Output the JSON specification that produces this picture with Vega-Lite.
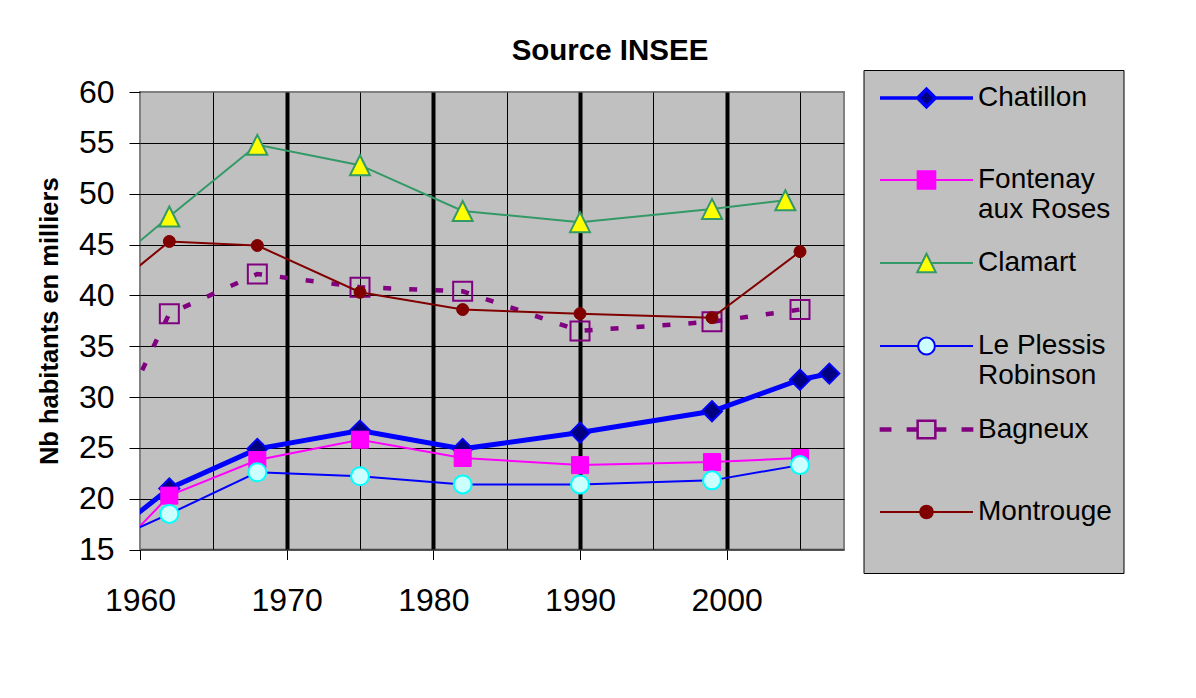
{
  "$schema": "https://vega.github.io/schema/vega-lite/v6.json",
  "width": 704,
  "height": 457.5,
  "autosize": "none",
  "padding": {"left": 140, "top": 92, "right": 352, "bottom": 148.5},
  "background": "#FFFFFF",
  "datasets": {
    "pop": [
      {"city": "Chatillon", "year": 1954, "pop": 11.9},
      {"city": "Chatillon", "year": 1962, "pop": 21.0},
      {"city": "Chatillon", "year": 1968, "pop": 24.9},
      {"city": "Chatillon", "year": 1975, "pop": 26.7},
      {"city": "Chatillon", "year": 1982, "pop": 24.9},
      {"city": "Chatillon", "year": 1990, "pop": 26.5},
      {"city": "Chatillon", "year": 1999, "pop": 28.6},
      {"city": "Chatillon", "year": 2005, "pop": 31.7},
      {"city": "Chatillon", "year": 2007, "pop": 32.3},
      {"city": "Fontenay aux Roses", "year": 1954, "pop": 8.3},
      {"city": "Fontenay aux Roses", "year": 1962, "pop": 20.3},
      {"city": "Fontenay aux Roses", "year": 1968, "pop": 23.8},
      {"city": "Fontenay aux Roses", "year": 1975, "pop": 25.8},
      {"city": "Fontenay aux Roses", "year": 1982, "pop": 24.0},
      {"city": "Fontenay aux Roses", "year": 1990, "pop": 23.3},
      {"city": "Fontenay aux Roses", "year": 1999, "pop": 23.6},
      {"city": "Fontenay aux Roses", "year": 2005, "pop": 24.0},
      {"city": "Clamart", "year": 1954, "pop": 38.1},
      {"city": "Clamart", "year": 1962, "pop": 47.75},
      {"city": "Clamart", "year": 1968, "pop": 54.8},
      {"city": "Clamart", "year": 1975, "pop": 52.8},
      {"city": "Clamart", "year": 1982, "pop": 48.3},
      {"city": "Clamart", "year": 1990, "pop": 47.2},
      {"city": "Clamart", "year": 1999, "pop": 48.5},
      {"city": "Clamart", "year": 2004, "pop": 49.35},
      {"city": "Le Plessis Robinson", "year": 1954, "pop": 13.3},
      {"city": "Le Plessis Robinson", "year": 1962, "pop": 18.5},
      {"city": "Le Plessis Robinson", "year": 1968, "pop": 22.6},
      {"city": "Le Plessis Robinson", "year": 1975, "pop": 22.2},
      {"city": "Le Plessis Robinson", "year": 1982, "pop": 21.4},
      {"city": "Le Plessis Robinson", "year": 1990, "pop": 21.4},
      {"city": "Le Plessis Robinson", "year": 1999, "pop": 21.8},
      {"city": "Le Plessis Robinson", "year": 2005, "pop": 23.3},
      {"city": "Bagneux", "year": 1954, "pop": 14.2},
      {"city": "Bagneux", "year": 1962, "pop": 38.2},
      {"city": "Bagneux", "year": 1968, "pop": 42.1},
      {"city": "Bagneux", "year": 1975, "pop": 40.8},
      {"city": "Bagneux", "year": 1982, "pop": 40.4},
      {"city": "Bagneux", "year": 1990, "pop": 36.5},
      {"city": "Bagneux", "year": 1999, "pop": 37.4},
      {"city": "Bagneux", "year": 2005, "pop": 38.6},
      {"city": "Montrouge", "year": 1954, "pop": 35.9},
      {"city": "Montrouge", "year": 1962, "pop": 45.3},
      {"city": "Montrouge", "year": 1968, "pop": 44.9},
      {"city": "Montrouge", "year": 1975, "pop": 40.3},
      {"city": "Montrouge", "year": 1982, "pop": 38.6},
      {"city": "Montrouge", "year": 1990, "pop": 38.2},
      {"city": "Montrouge", "year": 1999, "pop": 37.8},
      {"city": "Montrouge", "year": 2005, "pop": 44.3}
    ]
  },
  "data": {"name": "pop"},
  "title": {
    "text": "Source INSEE",
    "font": "Liberation Sans",
    "fontSize": 29.5,
    "fontWeight": "bold",
    "color": "#000000",
    "anchor": "middle",
    "dx": 118,
    "offset": 3
  },
  "encoding": {
    "x": {
      "field": "year",
      "type": "quantitative",
      "scale": {"domain": [1960, 2008], "nice": false, "zero": false},
      "axis": {
        "title": null,
        "values": [1960, 1965, 1970, 1975, 1980, 1985, 1990, 1995, 2000, 2005],
        "format": "d",
        "labelExpr": "datum.value % 10 === 0 ? datum.label : ''",
        "labelFont": "Liberation Sans",
        "labelFontSize": 32,
        "labelColor": "#000000",
        "labelPadding": 26,
        "labelFlush": false,
        "labelOverlap": false,
        "tickSize": 10,
        "tickColor": "#000000",
        "tickWidth": 1,
        "tickOpacity": {"condition": {"test": "datum.value % 10 === 0", "value": 1}, "value": 0},
        "grid": true,
        "gridColor": "#000000",
        "gridWidth": {"condition": {"test": "datum.value % 10 === 0 && datum.value > 1960", "value": 4}, "value": 1},
        "gridOpacity": {"condition": {"test": "datum.value === 1960", "value": 0}, "value": 1},
        "domainColor": "#333333",
        "domainWidth": 1.5
      }
    },
    "y": {
      "field": "pop",
      "type": "quantitative",
      "scale": {"domain": [15, 60], "nice": false, "zero": false},
      "axis": {
        "title": "Nb habitants en milliers",
        "titleFont": "Liberation Sans",
        "titleFontSize": 25.5,
        "titleFontWeight": "bold",
        "titleColor": "#000000",
        "titlePadding": 16,
        "values": [15, 20, 25, 30, 35, 40, 45, 50, 55, 60],
        "labelFont": "Liberation Sans",
        "labelFontSize": 32,
        "labelColor": "#000000",
        "labelPadding": 15,
        "labelFlush": false,
        "labelOverlap": false,
        "tickSize": 11,
        "tickColor": "#000000",
        "tickWidth": 1,
        "grid": true,
        "gridColor": "#000000",
        "gridWidth": 1,
        "gridOpacity": {"condition": {"test": "datum.value === 15 || datum.value === 60", "value": 0}, "value": 1},
        "domain": false
      }
    }
  },
  "layer": [
    {
      "transform": [{"filter": "datum.city === 'Chatillon'"}],
      "layer": [
        {"mark": {"type": "line", "clip": true, "stroke": "#0000FF", "strokeWidth": 5}, "encoding": {}},
        {"transform": [{"filter": "datum.year >= 1960"}], "mark": {"type": "point", "clip": true, "shape": "diamond", "filled": true, "fill": "#000080", "stroke": "#0000FF", "strokeWidth": 2, "size": 400, "opacity": 1}, "encoding": {}}
      ]
    },
    {
      "transform": [{"filter": "datum.city === 'Fontenay aux Roses'"}],
      "layer": [
        {"mark": {"type": "line", "clip": true, "stroke": "#FF00FF", "strokeWidth": 2}, "encoding": {}},
        {"transform": [{"filter": "datum.year >= 1960"}], "mark": {"type": "point", "clip": true, "shape": "square", "filled": true, "fill": "#FF00FF", "stroke": "#FF00FF", "strokeWidth": 1, "size": 290, "opacity": 1}, "encoding": {}}
      ]
    },
    {
      "transform": [{"filter": "datum.city === 'Clamart'"}],
      "layer": [
        {"mark": {"type": "line", "clip": true, "stroke": "#339966", "strokeWidth": 2}, "encoding": {}},
        {"transform": [{"filter": "datum.year >= 1960"}], "mark": {"type": "point", "clip": true, "shape": "M0,-1L1,1L-1,1Z", "filled": true, "fill": "#FFFF00", "stroke": "#339966", "strokeWidth": 2, "size": 400, "opacity": 1}, "encoding": {}}
      ]
    },
    {
      "transform": [{"filter": "datum.city === 'Le Plessis Robinson'"}],
      "layer": [
        {"mark": {"type": "line", "clip": true, "stroke": "#0000FF", "strokeWidth": 2}, "encoding": {}},
        {"transform": [{"filter": "datum.year >= 1960"}], "mark": {"type": "point", "clip": true, "shape": "circle", "filled": true, "fill": "#CCFFFF", "stroke": "#00FFFF", "strokeWidth": 2, "size": 324, "opacity": 1}, "encoding": {}}
      ]
    },
    {
      "transform": [{"filter": "datum.city === 'Bagneux'"}],
      "layer": [
        {"mark": {"type": "line", "clip": true, "stroke": "#800080", "strokeWidth": 4.5, "strokeDash": [8, 18]}, "encoding": {}},
        {"transform": [{"filter": "datum.year >= 1960"}], "mark": {"type": "point", "clip": true, "shape": "square", "filled": false, "stroke": "#800080", "strokeWidth": 2, "size": 361, "opacity": 1}, "encoding": {}}
      ]
    },
    {
      "transform": [{"filter": "datum.city === 'Montrouge'"}],
      "layer": [
        {"mark": {"type": "line", "clip": true, "stroke": "#800000", "strokeWidth": 2}, "encoding": {}},
        {"transform": [{"filter": "datum.year >= 1960"}], "mark": {"type": "point", "clip": true, "shape": "circle", "filled": true, "fill": "#800000", "stroke": "#800000", "strokeWidth": 1, "size": 144, "opacity": 1}, "encoding": {}}
      ]
    },
    {
      "transform": [{"filter": "datum.year > 3000"}],
      "mark": {"type": "point", "filled": true, "size": 900, "opacity": 1},
      "encoding": {
        "shape": {
          "field": "city", "type": "nominal",
          "scale": {
            "domain": ["Chatillon", "Fontenay aux Roses", "Clamart", "Le Plessis Robinson", "Bagneux", "Montrouge"],
            "range": [
              "M-3.1,0H-0.59M0.59,0H3.1M0,-0.59L0.59,0L0,0.59L-0.59,0Z",
              "M-3.1,0H-0.59M0.59,0H3.1M-0.59,-0.59H0.59V0.59H-0.59Z",
              "M-3.1,0H-0.31M0.31,0H3.1M0,-0.62L0.62,0.62H-0.62Z",
              "M-3.1,0H-0.56M0.56,0H3.1M-0.56,0A0.56,0.56,0,1,0,0.56,0A0.56,0.56,0,1,0,-0.56,0Z",
              "M-3.04,-0.062H-2.42V0.062H-3.04ZM-1.24,-0.062H-0.59V0.062H-1.24ZM0.59,-0.062H1.24V0.062H0.59ZM2.42,-0.062H3.04V0.062H2.42ZM-0.59,-0.59H0.59V0.59H-0.59Z",
              "M-3.1,0H-0.42M0.42,0H3.1M-0.42,0A0.42,0.42,0,1,0,0.42,0A0.42,0.42,0,1,0,-0.42,0Z"
            ]
          },
          "legend": {"title": " ", "labelExpr": "datum.label === 'Fontenay aux Roses' ? ['Fontenay', 'aux Roses'] : datum.label === 'Le Plessis Robinson' ? ['Le Plessis', 'Robinson'] : datum.label"}
        },
        "fill": {
          "field": "city", "type": "nominal",
          "scale": {
            "domain": ["Chatillon", "Fontenay aux Roses", "Clamart", "Le Plessis Robinson", "Bagneux", "Montrouge"],
            "range": ["#000080", "#FF00FF", "#FFFF00", "#CCFFFF", "transparent", "#800000"]
          },
          "legend": {"title": " ", "labelExpr": "datum.label === 'Fontenay aux Roses' ? ['Fontenay', 'aux Roses'] : datum.label === 'Le Plessis Robinson' ? ['Le Plessis', 'Robinson'] : datum.label"}
        },
        "stroke": {
          "field": "city", "type": "nominal",
          "scale": {
            "domain": ["Chatillon", "Fontenay aux Roses", "Clamart", "Le Plessis Robinson", "Bagneux", "Montrouge"],
            "range": ["#0000FF", "#FF00FF", "#339966", "#0000FF", "#800080", "#800000"]
          },
          "legend": {"title": " ", "labelExpr": "datum.label === 'Fontenay aux Roses' ? ['Fontenay', 'aux Roses'] : datum.label === 'Le Plessis Robinson' ? ['Le Plessis', 'Robinson'] : datum.label"}
        },
        "strokeWidth": {
          "field": "city", "type": "ordinal",
          "scale": {
            "type": "ordinal",
            "domain": ["Chatillon", "Fontenay aux Roses", "Clamart", "Le Plessis Robinson", "Bagneux", "Montrouge"],
            "range": [3.5, 2, 2, 2, 2.5, 2]
          },
          "legend": {"title": " ", "labelExpr": "datum.label === 'Fontenay aux Roses' ? ['Fontenay', 'aux Roses'] : datum.label === 'Le Plessis Robinson' ? ['Le Plessis', 'Robinson'] : datum.label"}
        }
      }
    }
  ],
  "config": {
    "font": "Liberation Sans",
    "view": {"fill": "#C0C0C0", "stroke": "#808080", "strokeWidth": 2},
    "legend": {
      "orient": "none",
      "legendX": 723.5,
      "legendY": -22,
      "direction": "vertical",
      "fillColor": "#C0C0C0",
      "strokeColor": "#000000",
      "padding": 11,
      "symbolOffset": 35,
      "labelOffset": 34.5,
      "labelFont": "Liberation Sans",
      "labelFontSize": 28,
      "labelColor": "#000000",
      "labelLimit": 300,
      "rowPadding": 23,
      "gridAlign": "all",
      "symbolSize": 900,
      "symbolStrokeWidth": 2,
      "titleOrient": "bottom",
      "titleFontSize": 28,
      "titlePadding": 8
    }
  }
}
